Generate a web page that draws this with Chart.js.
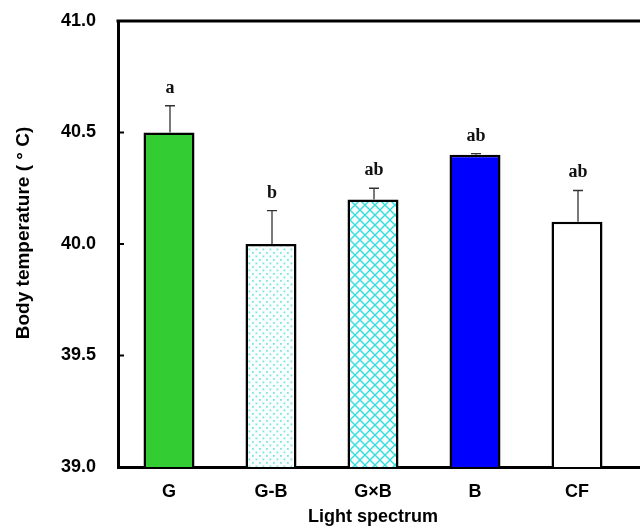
<!DOCTYPE html>
<html>
<head>
<meta charset="utf-8">
<script src="https://cdn.jsdelivr.net/npm/chart.js@4.4.1/dist/chart.umd.min.js"></script>
<style>
  html, body { margin: 0; padding: 0; background: #fff; overflow: hidden; }
  #wrap { width: 640px; height: 529px; overflow: hidden; }
</style>
</head>
<body>
<div id="wrap"><canvas id="chart" width="740" height="529"></canvas></div>
<script>
// values
var categories = ['G', 'G-B', 'G×B', 'B', 'CF'];
var means = [40.5, 40.0, 40.2, 40.4, 40.1];
var errors = [0.12, 0.15, 0.05, 0.005, 0.14];
var letters = ['a', 'b', 'ab', 'ab', 'ab'];
var yTicks = [39.0, 39.5, 40.0, 40.5, 41.0];
var xTitle = 'Light spectrum';
var yTitle = 'Body temperature ( ° C)';

var sans = '"Liberation Sans", Arial, sans-serif';

function dotPattern() {
    var c = document.createElement('canvas');
    c.width = 7; c.height = 7;
    var g = c.getContext('2d');
    g.fillStyle = '#fbfefe';
    g.fillRect(0, 0, 7, 7);
    g.fillStyle = '#7ae6e0';
    g.fillRect(0, 0, 1.8, 1.8);
    g.fillRect(3.5, 3.5, 1.8, 1.8);
    return g.createPattern(c, 'repeat');
}

function crossPattern() {
    var c = document.createElement('canvas');
    c.width = 10; c.height = 10;
    var g = c.getContext('2d');
    g.fillStyle = '#f8fcfc';
    g.fillRect(0, 0, 10, 10);
    g.strokeStyle = '#33dede';
    g.lineWidth = 1.4;
    g.beginPath();
    g.moveTo(-1, -1); g.lineTo(11, 11);
    g.moveTo(-1, 11); g.lineTo(11, -1);
    g.stroke();
    return g.createPattern(c, 'repeat');
}

var fills = ['#33cc33', dotPattern(), crossPattern(), '#0000ff', '#ffffff'];

var extras = {
    id: 'extras',
    afterDatasetsDraw: function(chart) {
        var ctx = chart.ctx;
        var area = chart.chartArea;
        var x = chart.scales.x, y = chart.scales.y;
        ctx.save();
        // top frame line
        ctx.strokeStyle = '#000';
        ctx.lineWidth = 3;
        ctx.beginPath();
        ctx.moveTo(area.left - 1.5, area.top);
        ctx.lineTo(area.right, area.top);
        ctx.stroke();
        // inward ticks
        ctx.lineWidth = 2;
        yTicks.forEach(function(v) {
            var py = y.getPixelForValue(v);
            ctx.beginPath();
            ctx.moveTo(area.left, py);
            ctx.lineTo(area.left + 6, py);
            ctx.stroke();
        });
        // error bars and letters
        ctx.strokeStyle = '#333';
        ctx.lineWidth = 1.3;
        ctx.fillStyle = '#111';
        ctx.font = 'bold 18px "Liberation Serif", "DejaVu Serif", serif';
        ctx.textAlign = 'center';
        ctx.textBaseline = 'alphabetic';
        means.forEach(function(m, i) {
            var px = x.getPixelForValue(i) + 1;
            var top = y.getPixelForValue(m + errors[i]);
            var base = y.getPixelForValue(m);
            ctx.beginPath();
            ctx.moveTo(px, base);
            ctx.lineTo(px, top);
            ctx.moveTo(px - 5, top);
            ctx.lineTo(px + 5, top);
            ctx.stroke();
            ctx.fillText(letters[i], px, top - 13);
        });
        // axis titles
        ctx.fillStyle = '#000';
        ctx.textBaseline = 'middle';
        ctx.font = 'bold 18px ' + sans;
        ctx.fillText(xTitle, x.getPixelForValue(2), 517);
        ctx.translate(24, 233);
        ctx.rotate(-Math.PI / 2);
        ctx.font = 'bold 19px ' + sans;
        ctx.fillText(yTitle, 0, 0);
        ctx.restore();
    }
};

new Chart(document.getElementById('chart'), {
    type: 'bar',
    data: {
        labels: categories.concat(['']),
        datasets: [{
            data: means,
            backgroundColor: fills,
            borderColor: '#000',
            borderWidth: 2.5,
            borderSkipped: false,
            barPercentage: 1,
            categoryPercentage: 0.5
        }]
    },
    options: {
        responsive: false,
        animation: false,
        layout: { padding: { top: 21, right: 10, left: 0, bottom: 0 } },
        plugins: { legend: { display: false }, tooltip: { enabled: false } },
        scales: {
            x: {
                grid: { display: false },
                border: { color: '#000', width: 3 },
                ticks: {
                    color: '#000',
                    padding: 6,
                    font: { family: sans, size: 18, weight: 'bold' }
                },
                afterFit: function(s) { s.height = 62; s.paddingLeft = 0; s.paddingRight = 0; }
            },
            y: {
                min: 39,
                max: 41,
                grid: { display: false, drawTicks: false },
                border: { color: '#000', width: 3 },
                ticks: {
                    stepSize: 0.5,
                    color: '#000',
                    padding: 22,
                    font: { family: sans, size: 18, weight: 'bold' },
                    callback: function(v) { return v.toFixed(1); }
                },
                afterFit: function(s) { s.width = 118; s.paddingTop = 0; s.paddingBottom = 0; }
            }
        }
    },
    plugins: [extras]
});
</script>
</body>
</html>
